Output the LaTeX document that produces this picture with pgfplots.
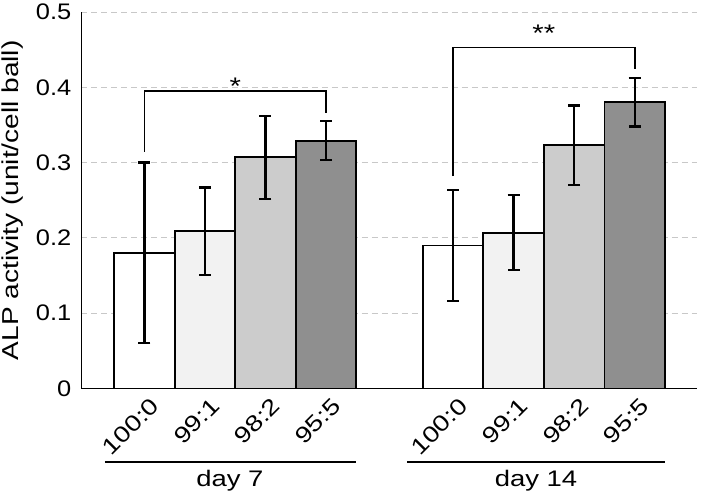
\documentclass[border=0pt]{standalone}
\usepackage{fontspec}
\setmainfont{Liberation Sans}
\newfontfamily\tickfont[FakeStretch=1.13]{Liberation Sans}
\newfontfamily\labfont[FakeStretch=1.22]{Liberation Sans}
\usepackage{pgfplots}
\pgfplotsset{compat=1.18}
\definecolor{barA}{RGB}{255,255,255}
\definecolor{barB}{RGB}{242,242,242}
\definecolor{barC}{RGB}{204,204,204}
\definecolor{barD}{RGB}{143,143,143}
\definecolor{gridc}{RGB}{200,200,200}

\pgfplotstableread{
x y e
1   0.180 0.120
6.1 0.190 0.074
}\tA
\pgfplotstableread{
x y e
2   0.209 0.058
7.1 0.207 0.050
}\tB
\pgfplotstableread{
x y e
3   0.307 0.055
8.1 0.323 0.053
}\tC
\pgfplotstableread{
x y e
4   0.329 0.026
9.1 0.380 0.032
}\tD

\begin{document}
\begin{tikzpicture}
\begin{axis}[
  at={(0,0)}, anchor=south west,
  scale only axis, width=615.5pt, height=376.5pt,
  xmin=-0.04, xmax=10.13, ymin=0, ymax=0.5,
  axis x line*=bottom, axis y line*=left,
  x axis line style={-}, y axis line style={-},
  axis line style={black, line width=1.8pt},
  major tick length=0pt,
  ytick={0,0.1,0.2,0.3,0.4,0.5},
  yticklabels={0,0.1,0.2,0.3,0.4,0.5},
  yticklabel style={font=\fontsize{22.5}{22.5}\selectfont\tickfont, anchor=east, inner sep=0pt, xshift=-10pt},
  ymajorgrids,
  grid style={gridc, line width=0.9pt, dash pattern=on 6pt off 4pt},
  xtick={1,2,3,4,6.1,7.1,8.1,9.1},
  xticklabels={100:0,99:1,98:2,95:5,100:0,99:1,98:2,95:5},
  xticklabel style={font=\fontsize{22.5}{22.5}\selectfont\labfont, inner sep=0pt, xshift=10.5pt, yshift=-13.5pt, rotate=45, anchor=east},
  ylabel={ALP activity (unit/cell ball)},
  ylabel style={font=\fontsize{23}{23}\selectfont\labfont, at={(axis description cs:-0.1121,0.5)}, anchor=center},
  clip=false,
  error bars/y dir=both, error bars/y explicit,
  error bars/error bar style={black, line width=2.3pt},
  error bars/error mark options={rotate=90, mark size=6pt, line width=2.3pt, black},
]
\addplot[ybar, bar width=1, bar shift=0pt, fill=barA, draw=black, line width=1.8pt] table[x=x, y=y, y error=e] {\tA};
\addplot[ybar, bar width=1, bar shift=0pt, fill=barB, draw=black, line width=1.8pt] table[x=x, y=y, y error=e] {\tB};
\addplot[ybar, bar width=1, bar shift=0pt, fill=barC, draw=black, line width=1.8pt] table[x=x, y=y, y error=e] {\tC};
\addplot[ybar, bar width=1, bar shift=0pt, fill=barD, draw=black, line width=1.8pt] table[x=x, y=y, y error=e] {\tD};

\draw[line width=1.7pt] (axis cs:1,0.3145) |- (axis cs:4,0.395) -- (axis cs:4,0.366);
\draw[line width=1.7pt] (axis cs:6.1,0.282) |- (axis cs:9.1,0.453) -- (axis cs:9.1,0.4243);
\node[anchor=base, inner sep=0pt, font=\fontsize{24}{24}\selectfont\labfont] at (axis cs:2.5,0.390) {*};
\node[anchor=base, inner sep=0pt, font=\fontsize{24}{24}\selectfont\labfont] at (axis cs:7.6,0.4605) {**};

\draw[line width=1.7pt] (axis cs:0.347,-0.098) -- (axis cs:4.496,-0.098);
\draw[line width=1.7pt] (axis cs:5.344,-0.098) -- (axis cs:9.603,-0.098);
\node[anchor=base, inner sep=0pt, font=\fontsize{22.5}{22.5}\selectfont\labfont] at (axis cs:2.413,-0.1308) {day 7};
\node[anchor=base, inner sep=0pt, font=\fontsize{22.5}{22.5}\selectfont\labfont] at (axis cs:7.471,-0.1308) {day 14};
\end{axis}
\pgfresetboundingbox
\path (-81.5pt,-111.5pt) rectangle (619.5pt,388.5pt);
\end{tikzpicture}
\end{document}
